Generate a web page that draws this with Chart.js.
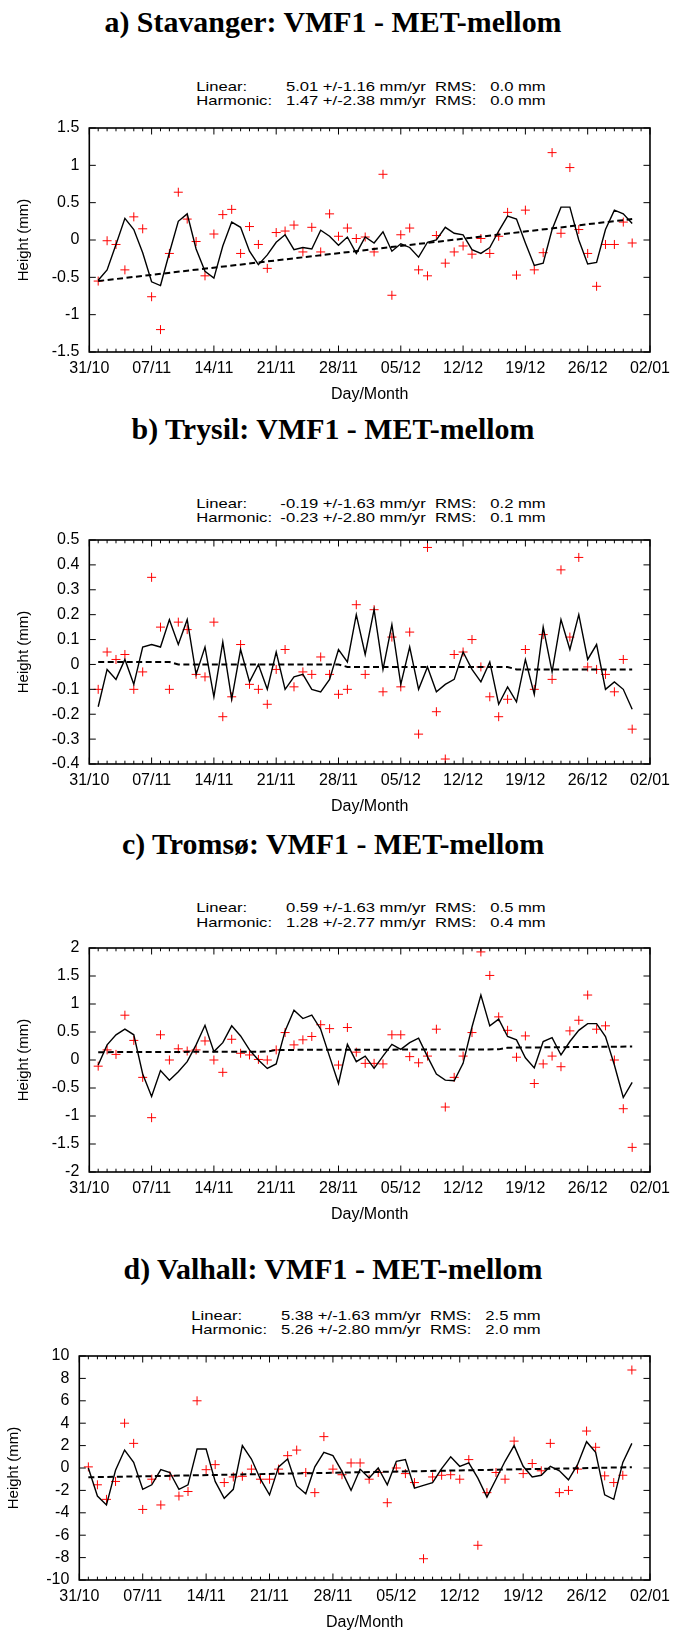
<!DOCTYPE html>
<html>
<head>
<meta charset="utf-8">
<title>VMF1 - MET-mellom</title>
<script src="https://cdn.jsdelivr.net/npm/chart.js@4.4.1/dist/chart.umd.min.js"></script>
<style>
  body { margin: 0; background: #fff; }
  #page { position: relative; width: 677px; height: 1635px; overflow: hidden; background: #fff; }
  .ttl { position: absolute; left: 0; width: 666px; text-align: center; white-space: nowrap;
         font: bold 28.5px/29px "Liberation Serif", "Times New Roman", serif; color: #000;
         transform: scaleX(1.05); transform-origin: 333px 0; }
  .stats { position: absolute; width: 284px; font: 13.5px/14.5px "Liberation Sans", Arial, sans-serif;
           color: #000; transform: scaleX(1.23); transform-origin: 142px 0; }
  .stats div { display: flex; justify-content: space-between; white-space: pre; }
  canvas { position: absolute; left: 0; }
</style>
</head>
<body>
<div id="page"></div>
<script>
// x axis: days since 31/10, one tick label per week
var xTickLabels = ['31/10', '07/11', '14/11', '21/11', '28/11', '05/12', '12/12', '19/12', '26/12', '02/01'];
var daysPerTick = 7;

var titles = ['a) Stavanger: VMF1 - MET-mellom', 'b) Trysil: VMF1 - MET-mellom',
              'c) Tromsø: VMF1 - MET-mellom', 'd) Valhall: VMF1 - MET-mellom'];
var linearText = ['5.01 +/-1.16 mm/yr  RMS:   0.0 mm', '-0.19 +/-1.63 mm/yr  RMS:   0.2 mm',
                  '0.59 +/-1.63 mm/yr  RMS:   0.5 mm', '5.38 +/-1.63 mm/yr  RMS:   2.5 mm'];
var harmonicText = ['1.47 +/-2.38 mm/yr  RMS:   0.0 mm', '-0.23 +/-2.80 mm/yr  RMS:   0.1 mm',
                    '1.28 +/-2.77 mm/yr  RMS:   0.4 mm', '5.26 +/-2.80 mm/yr  RMS:   2.0 mm'];

// y axis ranges: [min, max, step]
var yRanges = [[-1.5, 1.5, 0.5], [-0.4, 0.5, 0.1], [-2, 2, 0.5], [-10, 10, 2]];

// daily values 01/11 .. 31/12 (red crosses)
var stavangerObs = [-0.55, -0.01, -0.06, -0.40, 0.31, 0.15, -0.76, -1.20, -0.18, 0.64,
    0.28, -0.02, -0.48, 0.08, 0.34, 0.41, -0.18, 0.18, -0.06, -0.38,
    0.10, 0.12, 0.20, -0.16, 0.17, -0.16, 0.35, 0.05, 0.16, 0.02,
    0.04, -0.16, 0.88, -0.74, 0.07, 0.16, -0.40, -0.48, 0.06, -0.31,
    -0.16, -0.08, -0.19, 0.02, -0.18, 0.05, 0.37, -0.47, 0.40, -0.40,
    -0.17, 1.17, 0.09, 0.97, 0.14, -0.18, -0.62, -0.06, -0.06, 0.24, -0.04];
var trysilObs = [-0.10, 0.05, 0.02, 0.04, -0.10, -0.03, 0.35, 0.15, -0.10, 0.17,
    0.14, -0.04, -0.05, 0.17, -0.21, -0.13, 0.08, -0.08, -0.10, -0.16,
    -0.02, 0.06, -0.09, -0.03, -0.04, 0.03, -0.04, -0.12, -0.10, 0.24,
    -0.04, 0.22, -0.11, 0.11, -0.09, 0.13, -0.28, 0.47, -0.19, -0.38,
    0.04, 0.05, 0.10, -0.01, -0.13, -0.21, -0.14, -0.41, 0.06, -0.10,
    0.12, -0.06, 0.38, 0.11, 0.43, -0.01, -0.02, -0.04, -0.11, 0.02, -0.26];
var tromsoObs = [-0.11, 0.18, 0.10, 0.80, 0.35, -0.31, -1.03, 0.45, 0.00, 0.20,
    0.16, 0.18, 0.34, 0.00, -0.22, 0.37, 0.12, 0.09, 0.01, 0.00,
    0.18, 0.49, 0.27, 0.36, 0.42, 0.63, 0.56, -0.09, 0.58, 0.14,
    -0.06, -0.06, -0.07, 0.45, 0.45, 0.06, -0.05, 0.07, 0.55, -0.84,
    -0.31, 0.07, 0.49, 1.93, 1.51, 0.77, 0.53, 0.05, 0.43, -0.42,
    -0.07, 0.07, -0.12, 0.52, 0.71, 1.16, 0.55, 0.61, 0.00, -0.87, -1.56];
var valhallObs = [0.10, -1.5, -2.8, -1.2, 4.0, 2.2, -3.7, -1.0, -3.3, -0.7,
    -2.5, -2.1, 6.0, -0.15, 0.3, -1.3, -0.8, -0.74, -0.1, -1.0,
    -1.0, -0.1, 1.1, 1.6, -0.4, -2.2, 2.8, -0.1, -0.6, 0.45,
    0.45, -1.0, -0.4, -3.1, 0.0, -0.5, -1.3, -8.1, -0.8, -0.65,
    -0.6, -1.0, 0.75, -6.9, -2.2, -0.4, -1.0, 2.4, -0.5, 0.4,
    -0.25, 2.2, -2.2, -2.0, -0.1, 3.3, 1.85, -0.7, -1.3, -0.65, 8.75];

// harmonic model (solid line)
var stavangerFit = [-0.54, -0.40, -0.06, 0.29, 0.14, -0.17, -0.56, -0.61, -0.17, 0.25,
    0.35, -0.12, -0.42, -0.51, -0.08, 0.24, 0.17, -0.15, -0.33, -0.20,
    -0.03, 0.07, -0.13, -0.10, -0.12, 0.13, 0.05, -0.07, 0.04, -0.18,
    0.04, -0.04, 0.11, -0.15, -0.05, -0.10, -0.23, -0.03, 0.00, 0.17,
    0.09, 0.07, -0.13, -0.18, -0.10, 0.12, 0.32, 0.28, -0.04, -0.34,
    -0.31, 0.14, 0.44, 0.44, 0.00, -0.32, -0.30, 0.14, 0.40, 0.35, 0.22];
var trysilFit = [-0.17, -0.02, -0.06, 0.02, -0.08, 0.07, 0.08, 0.07, 0.18, 0.08,
    0.18, -0.04, 0.07, -0.13, 0.09, -0.14, 0.06, -0.07, 0.00, -0.10,
    0.05, -0.10, -0.05, -0.04, -0.10, -0.11, -0.06, 0.06, 0.01, 0.20,
    0.04, 0.22, -0.02, 0.16, -0.08, 0.07, -0.10, -0.01, -0.11, -0.08,
    -0.06, 0.05, -0.02, -0.07, 0.01, -0.16, -0.09, -0.15, 0.02, -0.12,
    0.15, -0.03, 0.18, 0.06, 0.20, 0.02, 0.08, -0.10, -0.07, -0.10, -0.18];
var tromsoFit = [-0.09, 0.27, 0.45, 0.55, 0.45, -0.25, -0.65, -0.19, -0.36, -0.21,
    -0.03, 0.27, 0.62, 0.15, 0.31, 0.61, 0.43, 0.18, 0.00, -0.15,
    -0.07, 0.52, 0.89, 0.74, 0.80, 0.55, 0.06, -0.42, 0.28, -0.03,
    0.07, -0.15, 0.07, 0.28, 0.19, 0.31, 0.39, 0.06, -0.25, -0.36,
    -0.37, -0.06, 0.59, 1.16, 0.61, 0.73, 0.42, 0.36, 0.04, -0.14,
    0.33, 0.40, 0.09, 0.33, 0.53, 0.65, 0.65, 0.42, -0.09, -0.67, -0.40];
var valhallFit = [0.0, -2.5, -3.3, -0.2, 1.6, 0.5, -1.9, -1.5, -0.15, -0.4,
    -1.9, -1.5, 1.7, 1.7, -1.2, -2.7, -1.9, 2.0, 0.8, -1.0,
    -2.4, 0.1, 0.8, -1.6, -2.3, 0.1, 1.4, 1.1, -0.3, -2.0,
    -0.1, -0.9, 0.0, -1.5, 0.6, 0.75, -1.8, -1.55, -1.3, -0.05,
    1.0, 0.15, 0.45, -0.9, -2.6, -1.0, 0.6, 2.0, 0.15, -0.8,
    -0.65, 0.15, -0.25, -1.05, 0.3, 2.35, 1.4, -2.4, -2.8, 0.5, 2.2];

// linear trend (dashed line), [day, value] break points
var stavangerTrend = [[1, -0.55], [61, 0.28]];
var trysilTrend = [[1, 0.01], [9, 0.01], [10, 0.0], [28, 0.0], [29, -0.01], [47, -0.01], [48, -0.02], [61, -0.02]];
var tromsoTrend = [[1, 0.14], [20, 0.15], [21, 0.18], [46, 0.19], [47, 0.22], [61, 0.24]];
var valhallTrend = [[1, -0.83], [61, 0.07]];

var obsSeries = [stavangerObs, trysilObs, tromsoObs, valhallObs];
var fitSeries = [stavangerFit, trysilFit, tromsoFit, valhallFit];
var trendSeries = [stavangerTrend, trysilTrend, tromsoTrend, valhallTrend];

// page layout (pixels)
var plotTops = [128.3, 540, 947.7, 1356];
var plotLefts = [89.3, 89.3, 89.3, 79.3];
var plotRight = 653.3;
var plotH = 224.5;
var titleTops = [7.8, 415, 830, 1255];
var statsTops = [79.5, 496.5, 901, 1308.5];
var yTitlePads = [15, 15, 15, 4.5];

Chart.defaults.font.family = '"Liberation Sans", Arial, sans-serif';
Chart.defaults.color = '#000';

var frameTicks = {
    id: 'frameTicks',
    afterDatasetsDraw: function (chart) {
        var ctx = chart.ctx, a = chart.chartArea, x = chart.scales.x, y = chart.scales.y;
        ctx.save();
        ctx.strokeStyle = '#000';
        ctx.lineWidth = 1;
        ctx.beginPath();
        for (var d = x.min; d <= x.max; d++) {
            var px = x.getPixelForValue(d);
            var len = d % daysPerTick === 0 ? 6.5 : 3.3;
            ctx.moveTo(px, a.bottom); ctx.lineTo(px, a.bottom - len);
            ctx.moveTo(px, a.top); ctx.lineTo(px, a.top + len);
        }
        y.ticks.forEach(function (t) {
            var py = y.getPixelForValue(t.value);
            ctx.moveTo(a.left, py); ctx.lineTo(a.left + 6.5, py);
            ctx.moveTo(a.right, py); ctx.lineTo(a.right - 6.5, py);
        });
        ctx.stroke();
        ctx.lineWidth = 1.6;
        ctx.strokeRect(a.left, a.top, a.right - a.left, a.bottom - a.top);
        ctx.restore();
    }
};

function daily(values) {
    return values.map(function (v, i) { return {x: i + 1, y: v}; });
}

function makePanel(i) {
    var page = document.getElementById('page');

    var t = document.createElement('div');
    t.className = 'ttl';
    t.style.top = titleTops[i] + 'px';
    t.textContent = titles[i];
    page.appendChild(t);

    var plotCenter = (plotLefts[i] + plotRight) / 2;
    var s = document.createElement('div');
    s.className = 'stats';
    s.style.top = statsTops[i] + 'px';
    s.style.left = (plotCenter - 142) + 'px';
    s.innerHTML = '<div><span>Linear:</span><span>' + linearText[i] + '</span></div>' +
                  '<div><span>Harmonic:</span><span>' + harmonicText[i] + '</span></div>';
    page.appendChild(s);

    var padTop = 20, axisH = 55;
    var cv = document.createElement('canvas');
    cv.width = 677;
    cv.height = padTop + plotH + axisH;
    cv.style.width = '677px';
    cv.style.height = cv.height + 'px';
    cv.style.top = (plotTops[i] - padTop) + 'px';
    page.appendChild(cv);

    new Chart(cv, {
        type: 'scatter',
        data: {
            datasets: [
                {
                    label: 'Linear',
                    data: trendSeries[i].map(function (p) { return {x: p[0], y: p[1]}; }),
                    showLine: true, borderColor: '#000', borderWidth: 2, borderDash: [6, 3.5],
                    pointRadius: 0
                },
                {
                    label: 'Harmonic',
                    data: daily(fitSeries[i]),
                    showLine: true, borderColor: '#000', borderWidth: 1.4, pointRadius: 0
                },
                {
                    label: 'Obs',
                    data: daily(obsSeries[i]),
                    pointStyle: 'cross', pointRadius: 4.5, borderWidth: 1,
                    borderColor: '#ff0000', backgroundColor: '#ff0000'
                }
            ]
        },
        options: {
            responsive: false,
            animation: false,
            devicePixelRatio: 1,
            events: [],
            layout: {padding: {top: padTop, left: 0, right: 677 - plotRight, bottom: 0}},
            plugins: {legend: {display: false}, tooltip: {enabled: false}},
            scales: {
                x: {
                    type: 'linear', min: 0, max: (xTickLabels.length - 1) * daysPerTick,
                    grid: {display: false, drawTicks: false}, border: {display: false},
                    ticks: {
                        stepSize: daysPerTick, autoSkip: false, maxRotation: 0, padding: 7,
                        font: {size: 16},
                        callback: function (v) { return xTickLabels[Math.round(v / daysPerTick)]; }
                    },
                    title: {display: true, text: 'Day/Month', font: {size: 16}, padding: {top: 0, bottom: 3}},
                    afterFit: function (sc) { sc.height = axisH; }
                },
                y: {
                    min: yRanges[i][0], max: yRanges[i][1],
                    grid: {display: false, drawTicks: false}, border: {display: false},
                    ticks: {
                        stepSize: yRanges[i][2], padding: 10, font: {size: 16},
                        callback: function (v) { return String(+v.toFixed(2)); }
                    },
                    title: {display: true, text: 'Height (mm)', font: {size: 15}, padding: {top: yTitlePads[i], bottom: 0}},
                    afterFit: function (sc) { sc.width = plotLefts[i]; }
                }
            }
        },
        plugins: [frameTicks]
    });
}

for (var i = 0; i < titles.length; i++) {
    makePanel(i);
}
</script>
</body>
</html>
